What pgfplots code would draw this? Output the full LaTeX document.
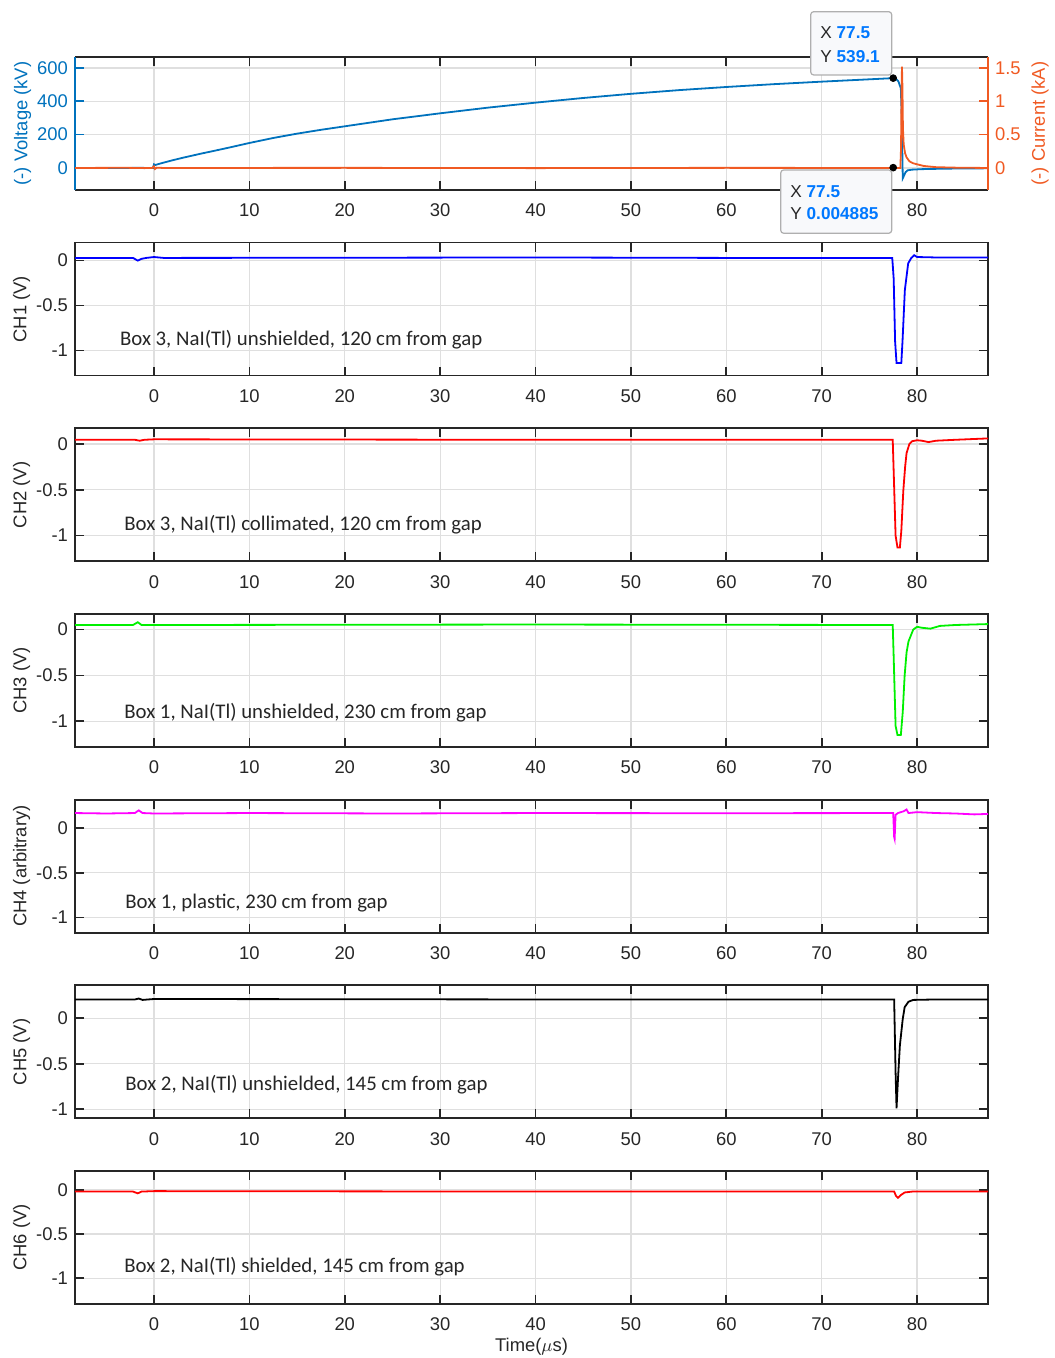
\documentclass[border=0pt]{standalone}
\usepackage{fontspec}
\setmainfont{Liberation Sans}
\newfontfamily\annfont{Carlito}
\usepackage{pgfplots}
\pgfplotsset{compat=1.18}
\definecolor{axcol}{RGB}{38,38,38}
\definecolor{gridcol}{RGB}{223,223,223}
\definecolor{vblue}{RGB}{0,114,189}
\definecolor{iorange}{RGB}{240,90,35}
\definecolor{tipblue}{RGB}{0,120,255}
\definecolor{tipfill}{RGB}{248,249,251}
\definecolor{tipedge}{RGB}{175,175,175}
\definecolor{chmag}{RGB}{255,0,255}
\definecolor{chgreen}{RGB}{0,240,0}
\pgfplotsset{
  base/.style={
    scale only axis, width=456.5pt, height=66.5pt, anchor=south west,
    xmin=-8.28, xmax=87.44, xtick={0,10,...,80},
    tick align=inside, major tick length=4.5pt,
    xtick pos=both,
    axis line style={line width=0.85pt, draw=axcol},
    every tick/.style={line width=0.85pt, axcol},
    grid=major, grid style={line width=0.6pt, gridcol},
    tick label style={font=\fontsize{9.2}{11}\selectfont, text=axcol},
    label style={font=\fontsize{9.2}{11}\selectfont, text=axcol},
    /pgf/number format/assume math mode=true,
    xticklabel shift=3.5pt,
  },
  ch/.style={base, ytick={-1,-0.5,0}, ytick pos=both, yticklabel pos=left,
    ylabel style={at={(axis description cs:-0.0584,0.5)}, anchor=center},
  },
}
\tikzset{ann/.style={anchor=west, inner sep=0pt, font=\annfont\fontsize{10.4}{12}\selectfont, text=axcol}}
\begin{document}
\begin{tikzpicture}
\useasboundingbox (0,0) rectangle (527pt,679pt);
% ---------- panel 1: voltage / current ----------
\begin{axis}[base, at={(37.5pt,584pt)}, ymin=-132, ymax=666, ytick={0,200,400,600},
  xticklabels={0,10,20,30,40,50,60,,80},
  ytick pos=left, separate axis lines, y axis line style={draw=vblue},
  ytick style={vblue}, yticklabel style={text=vblue},
  ylabel={(-) Voltage (kV)}, ylabel style={at={(axis description cs:-0.0575,0.5)},anchor=center,text=vblue}]
\addplot[vblue, line width=0.9pt] coordinates {
(-8.28,0)(-3,0)(-1.6,1)(-0.5,0)(-0.1,0)(0,22)(0.15,18)(0.5,24)(1,32)(2,47)(3,61)(4,74)(5,87)(6,99)(8,124)(10,150)
(12.5,180)(15,206)(17.5,229)(20,250)(25,292)(30,328)(35,362)(40,392)(45,420)(50,445)(55,467)(60,486)(65,503)
(70,518)(75,532)(77.5,539.1)(77.8,535)(78.05,519)(78.3,478)(78.4,300)(78.5,-62)(78.6,-50)(78.8,-25)(79.0,-14)
(79.5,-10)(80.5,-7)(83,-4)(87.44,-2)};
\addplot[only marks, mark=*, mark size=1.7pt, black] coordinates {(77.5,539.1)};
\end{axis}
\begin{axis}[base, at={(37.5pt,584pt)}, ymin=-0.33, ymax=1.665, axis y line*=right, axis x line=none,
  ytick={0,0.5,1,1.5}, grid=none, y axis line style={draw=iorange,line width=0.85pt},
  ytick style={iorange}, yticklabel style={text=iorange},
  ylabel={(-) Current (kA)}, ylabel style={at={(axis description cs:1.057,0.5)},anchor=center,text=iorange}]
\addplot[iorange, line width=0.9pt] coordinates {
(-8.28,0)(-3,0.003)(-1,-0.002)(-0.2,0)(0,0.025)(0.1,-0.015)(0.3,0.005)(1,0)(20,0.002)(40,-0.002)(60,0.002)(78.25,0)
(78.32,0.3)(78.38,1.2)(78.42,1.52)(78.47,1.2)(78.52,0.6)(78.6,0.35)(78.75,0.22)(78.9,0.16)(79.2,0.1)(79.6,0.07)
(80.7,0.03)(82,0.012)(84,0.005)(87.44,0)};
\addplot[only marks, mark=*, mark size=1.7pt, black] coordinates {(77.5,0.004885)};
\end{axis}
% ---------- CH1 ----------
\begin{axis}[ch, at={(37.5pt,491.17pt)}, ymin=-1.28, ymax=0.2, ylabel={CH1 (V)}]
\addplot[blue, line width=0.9pt] coordinates {
(-8.28,0.03)(-2.2,0.03)(-1.7,0.0)(-1.3,0.02)(-0.8,0.03)(0,0.04)(0.5,0.035)(1,0.03)(20,0.032)(40,0.035)(60,0.03)
(77.4,0.03)(77.55,-0.2)(77.7,-0.9)(77.85,-1.14)(78.35,-1.14)(78.48,-0.89)(78.72,-0.33)(79.07,-0.03)(79.4,0.03)
(79.7,0.06)(80,0.04)(82,0.035)(87.44,0.035)};
\node[ann] at (axis description cs:0.049,0.27) {Box 3, NaI(Tl) unshielded, 120 cm from gap};
\end{axis}
% ---------- CH2 ----------
\begin{axis}[ch, at={(37.5pt,398.33pt)}, ymin=-1.28, ymax=0.17, ylabel={CH2 (V)}]
\addplot[red, line width=0.9pt] coordinates {
(-8.28,0.045)(-2,0.045)(-1.5,0.035)(-1,0.045)(0,0.05)(40,0.045)(77.45,0.045)(77.55,-0.3)(77.75,-1.0)(77.95,-1.13)
(78.2,-1.13)(78.35,-0.95)(78.56,-0.51)(78.75,-0.25)(78.9,-0.10)(79.2,0.0)(79.5,0.03)(80,0.04)(80.5,0.035)(81.2,0.02)
(82,0.035)(84,0.045)(87.44,0.06)};
\node[ann] at (axis description cs:0.0537,0.273) {Box 3, NaI(Tl) collimated, 120 cm from gap};
\end{axis}
% ---------- CH3 ----------
\begin{axis}[ch, at={(37.5pt,305.5pt)}, ymin=-1.28, ymax=0.17, ylabel={CH3 (V)}]
\addplot[chgreen, line width=0.9pt] coordinates {
(-8.28,0.05)(-2.2,0.05)(-1.7,0.08)(-1.3,0.05)(0,0.05)(40,0.055)(77.45,0.05)(77.55,-0.3)(77.75,-1.05)(77.95,-1.15)
(78.3,-1.15)(78.5,-0.9)(78.7,-0.5)(78.9,-0.25)(79.1,-0.13)(79.6,0.0)(80,0.03)(80.5,0.02)(81.4,0.01)(82.4,0.04)
(84,0.05)(87.44,0.06)};
\node[ann] at (axis description cs:0.0537,0.256) {Box 1, NaI(Tl) unshielded, 230 cm from gap};
\end{axis}
% ---------- CH4 ----------
\begin{axis}[ch, at={(37.5pt,212.67pt)}, ymin=-1.17, ymax=0.32, ylabel={CH4 (arbitrary)}]
\addplot[chmag, line width=0.9pt] coordinates {
(-8.28,0.17)(-5,0.165)(-2,0.17)(-1.6,0.2)(-1.2,0.17)(0,0.165)(10,0.17)(25,0.165)(40,0.17)(60,0.168)(77.5,0.17)
(77.6,-0.1)(77.65,-0.12)(77.75,0.15)(78,0.17)(78.6,0.19)(78.9,0.21)(79.1,0.17)(80,0.18)(82,0.17)(84,0.165)
(86,0.155)(87.44,0.16)};
\node[ann] at (axis description cs:0.0548,0.223) {Box 1, plastic, 230 cm from gap};
\end{axis}
% ---------- CH5 ----------
\begin{axis}[ch, at={(37.5pt,119.83pt)}, ymin=-1.1, ymax=0.36, ylabel={CH5 (V)}]
\addplot[black, line width=0.9pt] coordinates {
(-8.28,0.205)(-2,0.205)(-1.6,0.215)(-1.2,0.2)(0,0.21)(40,0.205)(77.6,0.205)(77.75,-0.6)(77.85,-0.99)(78.0,-0.67)
(78.2,-0.30)(78.5,-0.01)(78.7,0.12)(79.1,0.18)(79.6,0.2)(82,0.205)(87.44,0.205)};
\node[ann] at (axis description cs:0.0548,0.25) {Box 2, NaI(Tl) unshielded, 145 cm from gap};
\end{axis}
% ---------- CH6 ----------
\begin{axis}[ch, at={(37.5pt,27pt)}, ymin=-1.293, ymax=0.213, ylabel={CH6 (V)},
  xlabel={Time($\mu$s)}, xlabel style={at={(axis description cs:0.5,-0.323)}, anchor=center}]
\addplot[red, line width=0.9pt] coordinates {
(-8.28,-0.02)(-2.2,-0.02)(-1.7,-0.04)(-1.3,-0.02)(0,-0.015)(40,-0.02)(77.6,-0.02)(77.8,-0.07)(78.0,-0.09)
(78.3,-0.06)(78.7,-0.03)(79.5,-0.02)(87.44,-0.02)};
\node[ann] at (axis description cs:0.0537,0.278) {Box 2, NaI(Tl) shielded, 145 cm from gap};
\end{axis}
% ---------- data tips ----------
\draw[tipedge, fill=tipfill, rounded corners=1.5pt, line width=0.6pt] (405.35pt,641.5pt) rectangle (445.85pt,673.15pt);
\node[anchor=west, inner sep=0pt, font=\fontsize{8.6}{10}\selectfont, text=axcol] at (410pt,662.5pt) {X \textcolor{tipblue}{\textbf{77.5}}};
\node[anchor=west, inner sep=0pt, font=\fontsize{8.6}{10}\selectfont, text=axcol] at (410pt,650.65pt) {Y \textcolor{tipblue}{\textbf{539.1}}};
\draw[tipedge, fill=tipfill, rounded corners=1.5pt, line width=0.6pt] (390.35pt,562.35pt) rectangle (445.85pt,594pt);
\node[anchor=west, inner sep=0pt, font=\fontsize{8.6}{10}\selectfont, text=axcol] at (395pt,583.15pt) {X \textcolor{tipblue}{\textbf{77.5}}};
\node[anchor=west, inner sep=0pt, font=\fontsize{8.6}{10}\selectfont, text=axcol] at (395pt,572.35pt) {Y \textcolor{tipblue}{\textbf{0.004885}}};
\end{tikzpicture}
\end{document}
